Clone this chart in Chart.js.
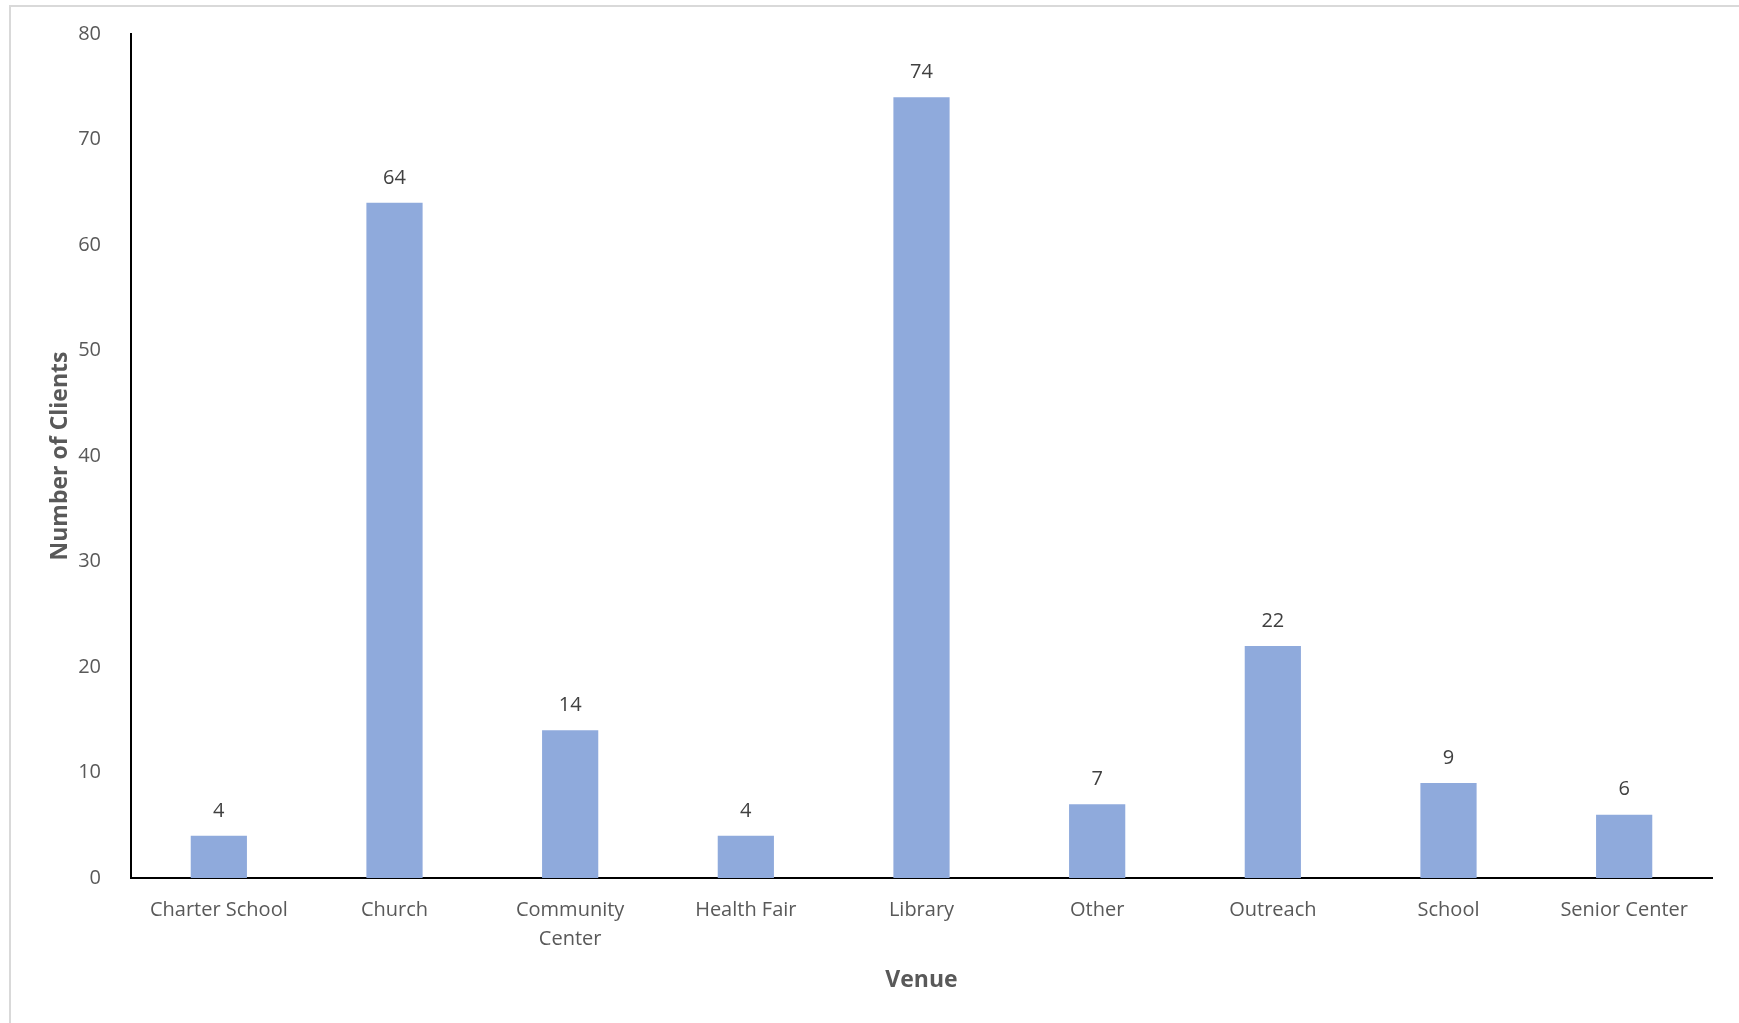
<!DOCTYPE html>
<html>
<head>
<meta charset="utf-8">
<script src="https://cdn.jsdelivr.net/npm/chart.js@4.4.1/dist/chart.umd.min.js"></script>
<style>
  html, body { margin: 0; padding: 0; background: #fff; }
  #wrap { position: relative; width: 1739px; height: 1023px; overflow: hidden; }
  #frame { position: absolute; left: 9px; top: 5px; right: -4px; bottom: -4px; border: 2px solid #d9d9d9; }
  canvas { position: absolute; left: 0; top: 0; }
</style>
</head>
<body>
<div id="wrap">
  <div id="frame"></div>
  <canvas id="venueChart" width="1739" height="1023"></canvas>
</div>
<script>
// Clients by venue

const venues = ['Charter School', 'Church', ['Community', 'Center'], 'Health Fair', 'Library', 'Other', 'Outreach', 'School', 'Senior Center'];
const clients = [4, 64, 14, 4, 74, 7, 22, 9, 6];
const yTicks = [0, 10, 20, 30, 40, 50, 60, 70, 80];

const fontFamily = '"Open Sans", "Noto Sans", sans-serif';

// value labels above each bar
const barValueLabels = {
    id: 'barValueLabels',
    afterDatasetsDraw(chart) {
        const ctx = chart.ctx;
        const meta = chart.getDatasetMeta(0);
        ctx.save();
        ctx.font = '20px ' + fontFamily;
        ctx.fillStyle = '#404040';
        ctx.textAlign = 'center';
        ctx.textBaseline = 'middle';
        meta.data.forEach((bar, i) => {
            ctx.fillText(String(clients[i]), bar.x, bar.y - 25);
        });
        ctx.restore();
    }
};

const ctx = document.getElementById('venueChart').getContext('2d');
new Chart(ctx, {
    type: 'bar',
    data: {
        labels: venues,
        datasets: [{
            label: 'Number of Clients',
            data: clients,
            backgroundColor: '#8faadc',
            borderWidth: 0,
            categoryPercentage: 1.0,
            barPercentage: 0.32
        }]
    },
    options: {
        responsive: false,
        animation: false,
        layout: {
            padding: { left: 0, top: 34, right: 27, bottom: 0 }
        },
        scales: {
            x: {
                grid: { display: false },
                border: { display: true, color: '#000', width: 2 },
                ticks: {
                    color: '#595959',
                    font: { family: fontFamily, size: 20, lineHeight: 1.45 },
                    padding: 10,
                    maxRotation: 0,
                    autoSkip: false
                },
                title: {
                    display: true,
                    text: 'Venue',
                    color: '#595959',
                    font: { family: fontFamily, size: 23, weight: 'bold' },
                    padding: { top: 0, bottom: 29 }
                },
                afterFit(scale) {
                    scale.height = 145;
                }
            },
            y: {
                min: 0,
                max: 80,
                grid: { display: false },
                border: { display: true, color: '#000', width: 2 },
                afterBuildTicks(scale) {
                    scale.ticks = yTicks.map(v => ({ value: v }));
                },
                ticks: {
                    color: '#595959',
                    font: { family: fontFamily, size: 20 },
                    padding: 22
                },
                title: {
                    display: true,
                    text: 'Number of Clients',
                    color: '#595959',
                    font: { family: fontFamily, size: 23, weight: 'bold' },
                    padding: { top: 47, bottom: 0 }
                },
                afterFit(scale) {
                    scale.width = 131;
                }
            }
        },
        plugins: {
            legend: { display: false },
            tooltip: { enabled: false }
        }
    },
    plugins: [barValueLabels]
});
</script>
</body>
</html>
